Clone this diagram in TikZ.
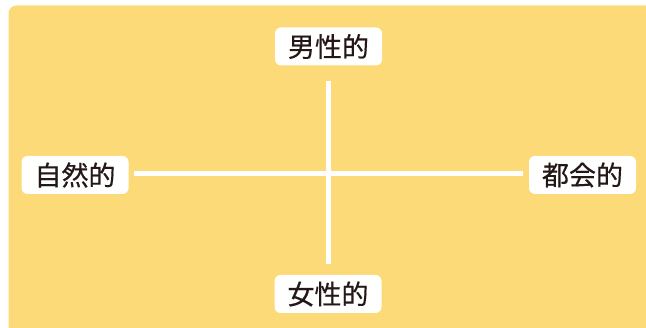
\documentclass[tikz,border=0pt]{standalone}
\usepackage{fontspec}
\newfontfamily\cjk[FakeBold=0.4]{Noto Sans CJK JP}
\definecolor{bgyellow}{HTML}{FDDA78}
\definecolor{txt}{HTML}{231815}
\begin{document}
\begin{tikzpicture}[x=1pt,y=-1pt,
  label box/.style={fill=white, rounded corners=6pt, inner sep=0pt,
    minimum width=107pt, minimum height=38pt, text=txt,
    font=\cjk\fontsize{27}{27}\selectfont},
  axis line/.style={draw=white, line width=5pt}]
\useasboundingbox (0,0) rectangle (646,328);
\fill[bgyellow, rounded corners=8pt] (8.5,5.5) rectangle (660,340);
\node[label box] (m) at (328.5,46.5) {男性的};
\node[label box] (f) at (328,294) {女性的};
\node[label box] (n) at (75,175) {自然的};
\node[label box] (u) at (582.5,175) {都会的};
\coordinate (vt) at (328.8,81);
\coordinate (vb) at (328.8,264);
\coordinate (hl) at (134,173.3);
\coordinate (hr) at (523,173.3);
\draw[axis line] (vt) -- (vb);
\draw[axis line] (hl) -- (hr);
\end{tikzpicture}
\end{document}
